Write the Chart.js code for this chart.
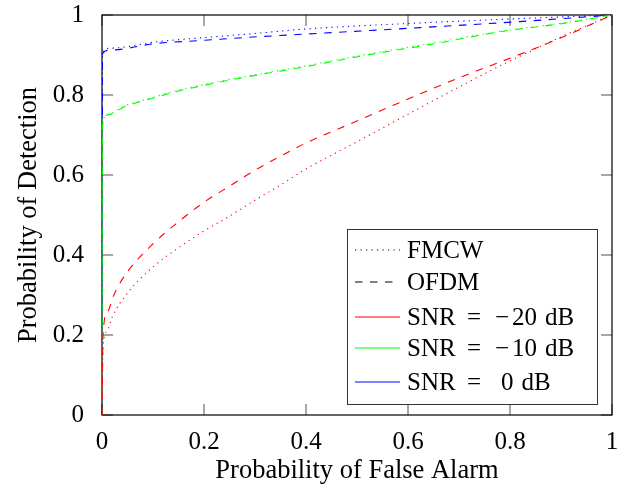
<!DOCTYPE html>
<html>
<head>
<meta charset="utf-8">
<script src="https://cdn.jsdelivr.net/npm/chart.js@4.4.1/dist/chart.umd.min.js"></script>
<style>
  body { margin: 0; background: #fff; }
  #roc { display: block; }
</style>
</head>
<body>
<canvas id="roc" width="627" height="487"></canvas>
<script>
// probability of false alarm (x) and detection (y)
var pfaFmcwM20 = [0, 0.002, 0.01, 0.02, 0.05, 0.1, 0.15, 0.2, 0.25, 0.3, 0.35, 0.4, 0.5, 0.6, 0.7, 0.8, 0.9, 1];
var pdFmcwM20  = [0, 0.17, 0.21, 0.245, 0.305, 0.37, 0.418, 0.46, 0.497, 0.537, 0.575, 0.615, 0.683, 0.752, 0.82, 0.885, 0.945, 1];

var pfaOfdmM20 = [0, 0.002, 0.01, 0.025, 0.05, 0.1, 0.15, 0.2, 0.25, 0.3, 0.35, 0.4, 0.5, 0.6, 0.7, 0.8, 0.9, 1];
var pdOfdmM20  = [0, 0.2, 0.255, 0.305, 0.358, 0.428, 0.483, 0.532, 0.572, 0.612, 0.647, 0.68, 0.735, 0.79, 0.843, 0.892, 0.943, 1];

var pfaFmcwM10 = [0, 0.001, 0.01, 0.045, 0.1, 0.15, 0.2, 0.27, 0.355, 0.4, 0.52, 0.65, 0.78, 0.91, 1];
var pdFmcwM10  = [0, 0.722, 0.752, 0.773, 0.794, 0.812, 0.826, 0.844, 0.863, 0.873, 0.902, 0.93, 0.959, 0.981, 1];

var pfaOfdmM10 = [0, 0.001, 0.01, 0.045, 0.1, 0.15, 0.2, 0.27, 0.355, 0.4, 0.52, 0.65, 0.78, 0.91, 1];
var pdOfdmM10  = [0, 0.725, 0.75, 0.771, 0.792, 0.81, 0.824, 0.842, 0.861, 0.871, 0.9, 0.9275, 0.958, 0.98, 1];

var pfaFmcw0 = [0, 0.001, 0.016, 0.107, 0.205, 0.303, 0.388, 0.604, 0.8, 1];
var pdFmcw0  = [0, 0.905, 0.917, 0.933, 0.944, 0.954, 0.964, 0.979, 0.99, 1];

var pfaOfdm0 = [0, 0.001, 0.016, 0.107, 0.192, 0.284, 0.401, 0.604, 0.813, 1];
var pdOfdm0  = [0, 0.903, 0.9125, 0.929, 0.936, 0.944, 0.9525, 0.967, 0.983, 1];

var axisTicks = [0, 0.2, 0.4, 0.6, 0.8, 1];
var legendLabels = ['FMCW', 'OFDM', 'SNR = \u221220 dB', 'SNR = \u221210 dB', 'SNR = 0 dB'];

var serif = '"Liberation Serif", "Times New Roman", serif';
var dotted = [1.2, 4.3];
var dashed = [7.5, 7.5];

function pts(xs, ys) {
  var out = [];
  for (var i = 0; i < xs.length; i++) out.push({x: xs[i], y: ys[i]});
  return out;
}

function curve(xs, ys, color, dash) {
  return {
    data: pts(xs, ys),
    borderColor: color,
    borderWidth: 1.1,
    borderDash: dash,
    pointRadius: 0,
    fill: false,
    cubicInterpolationMode: 'monotone'
  };
}

// frame + inward ticks on all four sides, like pgfplots
var framePlugin = {
  id: 'frame',
  beforeDatasetsDraw: function(chart) {
    var ctx = chart.ctx, a = chart.chartArea;
    var xs = chart.scales.x, ys = chart.scales.y;
    ctx.save();
    ctx.strokeStyle = '#8c8c8c';
    ctx.lineWidth = 1.5;
    axisTicks.forEach(function(t) {
      var px = xs.getPixelForValue(t), py = ys.getPixelForValue(t);
      ctx.beginPath();
      ctx.moveTo(px, a.bottom); ctx.lineTo(px, a.bottom - 11);
      ctx.moveTo(px, a.top); ctx.lineTo(px, a.top + 11);
      ctx.moveTo(a.left, py); ctx.lineTo(a.left + 11, py);
      ctx.moveTo(a.right, py); ctx.lineTo(a.right - 11, py);
      ctx.stroke();
    });
    ctx.strokeStyle = '#000';
    ctx.lineWidth = 1.2;
    ctx.strokeRect(a.left, a.top, a.right - a.left, a.bottom - a.top);
    ctx.restore();
  }
};

// draws "SNR = -20 dB" in pieces to get the wider TeX math spacing
function drawLabel(ctx, text, x, y) {
  var parts = text.split(' ');
  if (parts[0] !== 'SNR') { ctx.fillText(text, x, y); return; }
  ctx.fillText(parts[0], x, y);
  ctx.fillText(parts[1], x + 60, y);
  var v = parts[2], vx;
  if (v.charAt(0) === '\u2212') {
    ctx.fillText('\u2212', x + 88, y);
    ctx.fillText(v.slice(1), x + 105, y);
    vx = x + 105 + ctx.measureText(v.slice(1)).width;
  } else {
    ctx.fillText(v, x + 94, y);
    vx = x + 94 + ctx.measureText(v).width;
  }
  ctx.fillText(parts[3], vx + 8, y);
}

var legendPlugin = {
  id: 'boxLegend',
  afterDatasetsDraw: function(chart) {
    var ctx = chart.ctx, a = chart.chartArea;
    var bx = a.right - 265, by = a.bottom - 186, bw = 250, bh = 175;
    var styles = [
      {c: '#000', d: dotted},
      {c: '#000', d: dashed},
      {c: '#ff0000', d: []},
      {c: '#00ff00', d: []},
      {c: '#0000ff', d: []}
    ];
    ctx.save();
    ctx.fillStyle = '#fff';
    ctx.fillRect(bx, by, bw, bh);
    ctx.strokeStyle = '#333';
    ctx.lineWidth = 1;
    ctx.strokeRect(bx + 0.5, by + 0.5, bw, bh);
    ctx.font = '25px ' + serif;
    ctx.textBaseline = 'middle';
    var rows = [21, 53, 88, 119, 153];
    for (var i = 0; i < legendLabels.length; i++) {
      var cy = by + rows[i];
      ctx.strokeStyle = styles[i].c;
      ctx.setLineDash(styles[i].d);
      ctx.lineWidth = 1.1;
      ctx.beginPath();
      ctx.moveTo(bx + 8, cy);
      ctx.lineTo(bx + 53, cy);
      ctx.stroke();
      ctx.fillStyle = '#000';
      drawLabel(ctx, legendLabels[i], bx + 60, cy + 1);
    }
    ctx.restore();
  }
};

var ctx = document.getElementById('roc');
new Chart(ctx, {
  type: 'line',
  data: {
    datasets: [
      curve(pfaFmcwM20, pdFmcwM20, '#ff0000', dotted),
      curve(pfaOfdmM20, pdOfdmM20, '#ff0000', dashed),
      curve(pfaFmcwM10, pdFmcwM10, '#00ff00', dotted),
      curve(pfaOfdmM10, pdOfdmM10, '#00ff00', dashed),
      curve(pfaFmcw0, pdFmcw0, '#0000ff', dotted),
      curve(pfaOfdm0, pdOfdm0, '#0000ff', dashed)
    ]
  },
  options: {
    responsive: false,
    animation: false,
    layout: { padding: { top: 15, right: 15, left: 0, bottom: 0 } },
    plugins: { legend: { display: false }, tooltip: { enabled: false } },
    scales: {
      x: {
        type: 'linear', min: 0, max: 1,
        grid: { display: false },
        border: { display: false },
        afterFit: function(s) { s.height = 72; s.paddingLeft = 0; s.paddingRight = 0; },
        afterBuildTicks: function(s) { s.ticks = axisTicks.map(function(v) { return {value: v}; }); },
        ticks: {
          padding: 4, color: '#000', maxRotation: 0,
          font: { family: serif, size: 25 },
          callback: function(v) { return String(Math.round(v * 10) / 10); }
        },
        title: {
          display: true, text: 'Probability of False Alarm', color: '#000',
          font: { family: serif, size: 26.5 }, padding: { top: 5, bottom: 0 }
        }
      },
      y: {
        type: 'linear', min: 0, max: 1,
        grid: { display: false },
        border: { display: false },
        afterFit: function(s) { s.width = 102; s.paddingTop = 0; s.paddingBottom = 0; },
        afterBuildTicks: function(s) { s.ticks = axisTicks.map(function(v) { return {value: v}; }); },
        ticks: {
          padding: 10, color: '#000',
          font: { family: serif, size: 25 },
          callback: function(v) { return String(Math.round(v * 10) / 10); }
        },
        title: {
          display: true, text: 'Probability of Detection', color: '#000',
          font: { family: serif, size: 26.5 }, padding: { top: 13, bottom: 0 }
        }
      }
    }
  },
  plugins: [framePlugin, legendPlugin]
});
</script>
</body>
</html>
